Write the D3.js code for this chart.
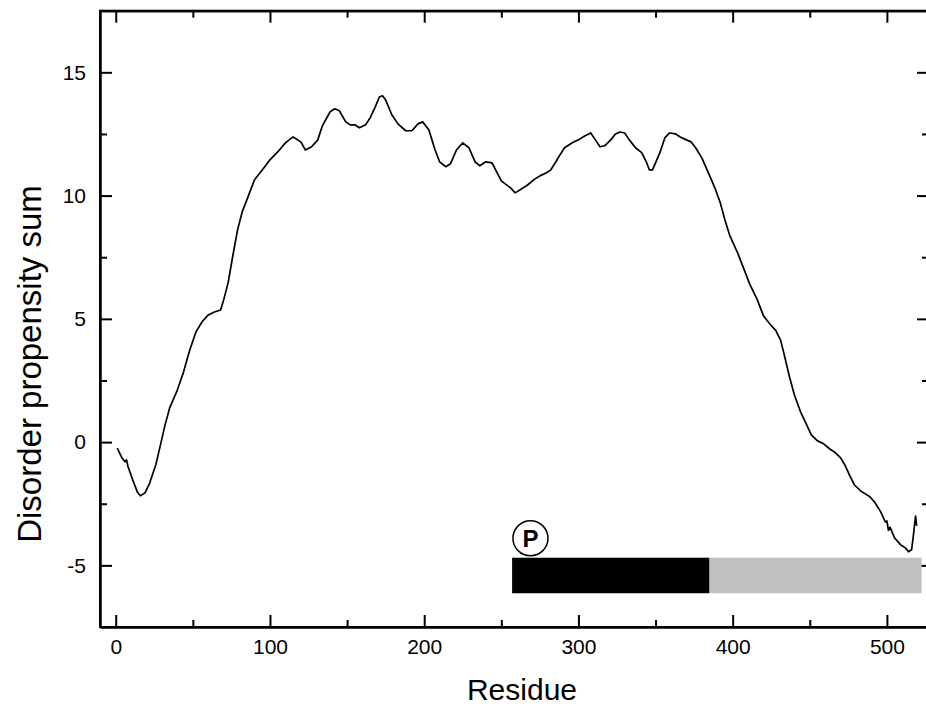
<!DOCTYPE html>
<html>
<head>
<meta charset="utf-8">
<script src="https://cdn.jsdelivr.net/npm/d3@7"></script>
<style>
  body { margin: 0; background: #fff; }
  text { font-family: "Liberation Sans", Arial, sans-serif; fill: #000; }
</style>
</head>
<body>
<div id="chart"></div>
<script>
// Width and height of chart
var width = 926;
var height = 719;

// Disorder propensity sum along the sequence
var residues = [1, 4, 6, 7, 8, 11, 14, 16, 19, 22, 26, 29, 32, 35, 40, 44, 48, 52, 56, 60,
  64, 68, 70, 73, 76, 79, 82, 86, 90, 95, 100, 105, 110, 115, 120, 123, 127, 131, 134, 139,
  142, 145, 149, 152, 155, 158, 162, 165, 168, 171, 173, 175, 179, 183, 188, 192, 196, 199, 203, 207,
  210, 214, 217, 221, 225, 229, 233, 236, 240, 244, 247, 250, 256, 259, 262, 267, 271, 275, 279, 282,
  285, 288, 291, 296, 301, 304, 308, 311, 314, 317, 321, 324, 327, 330, 333, 337, 341, 344, 346, 348,
  350, 353, 356, 359, 363, 366, 370, 373, 376, 380, 384, 389, 392, 395, 398, 403, 407, 411, 416, 420,
  424, 428, 431, 433, 435, 437, 440, 444, 448, 451, 455, 459, 463, 466, 470, 473, 476, 479, 483, 486,
  489, 492, 496, 499, 500, 501, 502, 505, 509, 512, 514, 516, 517, 518, 518.6, 519.3];
var propensity = [-0.24, -0.64, -0.80, -0.72, -1.0, -1.53, -2.02, -2.18, -2.06, -1.66, -0.92, -0.11, 0.70, 1.39, 2.12, 2.85, 3.74, 4.47, 4.88, 5.16,
  5.28, 5.36, 5.77, 6.50, 7.59, 8.61, 9.34, 9.99, 10.64, 11.04, 11.45, 11.77, 12.14, 12.38, 12.18, 11.85, 11.98, 12.26, 12.83, 13.40,
  13.52, 13.44, 13.00, 12.87, 12.87, 12.75, 12.87, 13.16, 13.56, 14.01, 14.05, 13.88, 13.28, 12.91, 12.63, 12.63, 12.91, 12.99, 12.67, 11.86,
  11.37, 11.17, 11.29, 11.86, 12.14, 11.94, 11.37, 11.21, 11.37, 11.33, 10.96, 10.60, 10.31, 10.11, 10.23, 10.43, 10.64, 10.80, 10.92, 11.04,
  11.33, 11.65, 11.94, 12.14, 12.30, 12.42, 12.54, 12.26, 11.98, 12.02, 12.26, 12.50, 12.58, 12.54, 12.26, 11.94, 11.74, 11.37, 11.04, 11.04,
  11.33, 11.77, 12.34, 12.54, 12.50, 12.38, 12.26, 12.18, 11.94, 11.53, 10.96, 10.23, 9.70, 9.01, 8.40, 7.71, 7.07, 6.42, 5.77, 5.12,
  4.80, 4.52, 4.15, 3.66, 3.13, 2.61, 1.92, 1.23, 0.70, 0.29, 0.05, -0.07, -0.28, -0.40, -0.64, -0.96, -1.37, -1.74, -1.98, -2.10,
  -2.22, -2.43, -2.83, -3.24, -3.20, -3.58, -3.45, -3.89, -4.17, -4.29, -4.45, -4.37, -3.89, -3.32, -3.00, -3.40];

// Domain bar below the curve
var domainStart = [257, 385];
var domainEnd = [385, 522.5];
var domainColor = ["#000000", "#c0c0c0"];
var domainTop = -4.69;
var domainBottom = -6.13;
var markerResidue = 268.9;
var markerValue = -3.9;
var markerLabel = "P";

var xTicks = [0, 100, 200, 300, 400, 500];
var xMinor = [50, 150, 250, 350, 450];
var yTicks = [-5, 0, 5, 10, 15];
var yMinor = [-2.5, 2.5, 7.5, 12.5];

var plotLeft = 100, plotRight = 929, plotTop = 10.7, plotBottom = 627;

var x = d3.scaleLinear().domain([-10.2, 527.3]).range([plotLeft, plotRight]);
var y = d3.scaleLinear().domain([-7.5, 17.5]).range([plotBottom, plotTop]);

var svg = d3.select("#chart")
  .append("svg")
  .attr("width", width)
  .attr("height", height);

// plain hyphen for negatives, like the original
var fmt = function(d) { return String(d); };

// inward ticks on all four sides
function tickAxis(axis, ticks, size, labels) {
  return axis.tickValues(ticks).tickSizeInner(-size).tickSizeOuter(0)
    .tickFormat(labels ? fmt : "");
}

svg.append("g").attr("transform", "translate(0," + plotBottom + ")")
  .call(tickAxis(d3.axisBottom(x), xTicks, 12, true).tickPadding(12));
svg.append("g").attr("transform", "translate(0," + plotBottom + ")")
  .call(tickAxis(d3.axisBottom(x), xMinor, 7, false));
svg.append("g").attr("transform", "translate(0," + plotTop + ")")
  .call(tickAxis(d3.axisTop(x), xTicks, 12, false));
svg.append("g").attr("transform", "translate(0," + plotTop + ")")
  .call(tickAxis(d3.axisTop(x), xMinor, 7, false));

svg.append("g").attr("transform", "translate(" + plotLeft + ",0)")
  .call(tickAxis(d3.axisLeft(y), yTicks, 12, true).tickPadding(14));
svg.append("g").attr("transform", "translate(" + plotLeft + ",0)")
  .call(tickAxis(d3.axisLeft(y), yMinor, 7, false));
svg.append("g").attr("transform", "translate(" + plotRight + ",0)")
  .call(tickAxis(d3.axisRight(y), yTicks, 12, false));
svg.append("g").attr("transform", "translate(" + plotRight + ",0)")
  .call(tickAxis(d3.axisRight(y), yMinor, 7, false));

svg.selectAll(".domain").attr("stroke", "#000").attr("stroke-width", 2);
svg.selectAll(".tick line").attr("stroke", "#000").attr("stroke-width", 2);
svg.selectAll(".tick text")
  .style("font-size", "21px")
  .style("font-family", "Liberation Sans, Arial, sans-serif")
  .attr("fill", "#000");

// frame
svg.append("rect")
  .attr("x", plotLeft)
  .attr("y", plotTop)
  .attr("width", plotRight - plotLeft)
  .attr("height", plotBottom - plotTop)
  .attr("fill", "none")
  .attr("stroke", "#000")
  .attr("stroke-width", 2);

// domain bar
svg.selectAll("rect.dom")
  .data(domainStart)
  .enter()
  .append("rect")
  .attr("class", "dom")
  .attr("x", function(d) { return x(d); })
  .attr("y", y(domainTop))
  .attr("width", function(d, i) { return x(domainEnd[i]) - x(d); })
  .attr("height", y(domainBottom) - y(domainTop))
  .attr("fill", function(d, i) { return domainColor[i]; });

svg.append("circle")
  .attr("cx", x(markerResidue))
  .attr("cy", y(markerValue))
  .attr("r", 17.5)
  .attr("fill", "#fff")
  .attr("stroke", "#000")
  .attr("stroke-width", 1.5);
svg.append("text")
  .attr("x", x(markerResidue))
  .attr("y", y(markerValue))
  .attr("dy", "0.36em")
  .attr("text-anchor", "middle")
  .style("font-size", "24px")
  .style("font-weight", "bold")
  .text(markerLabel);

// propensity curve
var line = d3.line()
  .x(function(d) { return x(d); })
  .y(function(d, i) { return y(propensity[i]); });

svg.append("path")
  .datum(residues)
  .attr("d", line)
  .attr("fill", "none")
  .attr("stroke", "#000")
  .attr("stroke-width", 1.7)
  .attr("stroke-linejoin", "round");

// axis titles
svg.append("text")
  .attr("x", 522)
  .attr("y", 700)
  .attr("text-anchor", "middle")
  .style("font-size", "30px")
  .text("Residue");

svg.append("text")
  .attr("transform", "translate(41,364) rotate(-90)")
  .attr("text-anchor", "middle")
  .style("font-size", "33px")
  .text("Disorder propensity sum");
</script>
</body>
</html>
